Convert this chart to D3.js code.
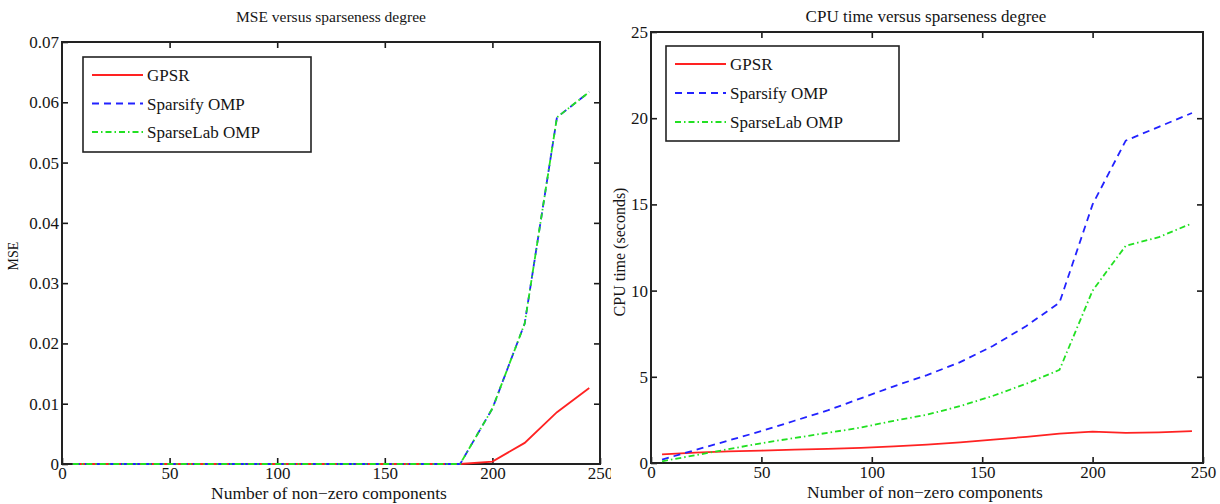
<!DOCTYPE html>
<html>
<head>
<meta charset="utf-8">
<script src="https://cdn.jsdelivr.net/npm/d3@7"></script>
<style>
  html, body { margin: 0; padding: 0; background: #fff; }
  svg { display: block; }
  text { font-family: "Liberation Serif", "Times New Roman", serif; fill: #151515; }
</style>
</head>
<body>
<svg id="fig" width="1220" height="504"></svg>
<script>
// Sparseness degree on the x axis (number of non-zero components)
const nonZero = [5, 20, 35, 50, 65, 80, 95, 110, 125, 140, 155, 170, 185, 200, 215, 230, 245];

// Mean squared error of each solver
const mseGPSR      = [0, 0, 0, 0, 0, 0, 0, 0, 0, 0, 0, 0, 0, 0.0004, 0.0035, 0.0086, 0.0126];
const mseSparsify  = [0, 0, 0, 0, 0, 0, 0, 0, 0, 0, 0, 0, 0, 0.0092, 0.0233, 0.0575, 0.0617];
const mseSparseLab = [0, 0, 0, 0, 0, 0, 0, 0, 0, 0, 0, 0, 0, 0.0092, 0.0233, 0.0575, 0.0617];

// CPU time in seconds of each solver
const cpuGPSR      = [0.5, 0.6, 0.67, 0.72, 0.77, 0.82, 0.88, 0.97, 1.07, 1.2, 1.35, 1.52, 1.7, 1.82, 1.75, 1.78, 1.85];
const cpuSparsify  = [0.2, 0.75, 1.3, 1.85, 2.45, 3.05, 3.75, 4.45, 5.1, 5.85, 6.8, 7.95, 9.3, 15.0, 18.7, 19.5, 20.3];
const cpuSparseLab = [0.1, 0.45, 0.8, 1.15, 1.45, 1.75, 2.05, 2.45, 2.8, 3.3, 3.9, 4.6, 5.4, 10.0, 12.6, 13.1, 13.9];

// Axis ticks
const xTicks = [0, 50, 100, 150, 200, 250];
const mseTicks = [0, 0.01, 0.02, 0.03, 0.04, 0.05, 0.06, 0.07];
const mseTickLabels = ["0", "0.01", "0.02", "0.03", "0.04", "0.05", "0.06", "0.07"];
const cpuTicks = [0, 5, 10, 15, 20, 25];
const cpuTickLabels = ["0", "5", "10", "15", "20", "25"];

const seriesNames = ["GPSR", "Sparsify OMP", "SparseLab OMP"];

const styles = [
  { color: "#ff2222", dash: null },
  { color: "#2222ff", dash: "7,5" },
  { color: "#22e022", dash: "6,3,1.5,3" }
];
const lineWidth = 1.8;

const svg = d3.select("#fig");

function drawPanel(opt) {
  const { left, right, top, bottom } = opt.box;
  const x = d3.scaleLinear().domain([0, 250]).range([left, right]);
  const y = d3.scaleLinear().domain(opt.yDomain).range([bottom, top]);
  const tickLen = 6;

  const clipId = "clip-" + opt.id;
  svg.append("clipPath").attr("id", clipId)
    .append("rect").attr("x", opt.clip[0]).attr("y", 0)
    .attr("width", opt.clip[1] - opt.clip[0]).attr("height", 504);
  const g = svg.append("g").attr("clip-path", `url(#${clipId})`);

  // inward ticks on all four sides
  const ax = (axis) => axis.tickSizeInner(-tickLen).tickSizeOuter(0);

  const bottomAxis = g.append("g").attr("transform", `translate(0,${bottom})`)
    .call(ax(d3.axisBottom(x).tickValues(xTicks).tickFormat(d3.format("d"))).tickPadding(3));
  const topAxis = g.append("g").attr("transform", `translate(0,${top})`)
    .call(ax(d3.axisTop(x).tickValues(xTicks.slice(1, -1))).tickFormat(""));
  const leftAxis = g.append("g").attr("transform", `translate(${left},0)`)
    .call(ax(d3.axisLeft(y).tickValues(opt.yTicks).tickFormat((d, i) => opt.yTickLabels[i])).tickPadding(3));
  const rightAxis = g.append("g").attr("transform", `translate(${right},0)`)
    .call(ax(d3.axisRight(y).tickValues(opt.yTicks.slice(1, -1))).tickFormat(""));

  [bottomAxis, topAxis, leftAxis, rightAxis].forEach(a => {
    a.select(".domain").remove();
    a.selectAll(".tick line").attr("stroke", "#1a1a1a").attr("stroke-width", 1.6);
    a.selectAll(".tick text").attr("font-size", 17)
      .attr("font-family", "Liberation Serif, serif").attr("fill", "#151515");
  });

  // axes box
  g.append("rect")
    .attr("x", left).attr("y", top)
    .attr("width", right - left).attr("height", bottom - top)
    .attr("fill", "none").attr("stroke", "#222").attr("stroke-width", 2);

  // series lines, drawn over the box
  const line = d3.line().x((d, i) => x(nonZero[i])).y(d => y(d));
  opt.series.forEach((vals, k) => {
    g.append("path").datum(vals)
      .attr("fill", "none")
      .attr("stroke", styles[k].color)
      .attr("stroke-width", lineWidth)
      .attr("stroke-dasharray", styles[k].dash)
      .attr("d", line);
  });

  // titles
  g.append("text").attr("x", (left + right) / 2 + opt.titleDx).attr("y", 22)
    .attr("text-anchor", "middle").attr("font-size", opt.titleSize).text(opt.title);
  g.append("text").attr("x", (left + right) / 2 - 2).attr("y", bottom + 35)
    .attr("text-anchor", "middle").attr("font-size", 17.5).text("Number of non\u2212zero components");
  g.append("text")
    .attr("transform", `translate(${opt.yLabelX},${opt.yLabelY}) rotate(-90)`)
    .attr("text-anchor", "middle").attr("font-size", opt.yLabelSize).text(opt.yLabel);

  // legend
  const L = opt.legend;
  const lg = g.append("g");
  lg.append("rect").attr("x", L.x).attr("y", L.y).attr("width", L.w).attr("height", L.h)
    .attr("fill", "#fff").attr("stroke", "#222").attr("stroke-width", 1.6);
  seriesNames.forEach((name, k) => {
    const yy = L.y + L.first + k * L.step;
    lg.append("line").attr("x1", L.x + 9).attr("x2", L.x + 60).attr("y1", yy).attr("y2", yy)
      .attr("stroke", styles[k].color).attr("stroke-width", lineWidth)
      .attr("stroke-dasharray", styles[k].dash);
    lg.append("text").attr("x", L.x + 64).attr("y", yy + 6)
      .attr("font-size", 17).text(name);
  });
}

drawPanel({
  id: "mse", clip: [0, 611],
  box: { left: 62, right: 600, top: 42, bottom: 464 },
  yDomain: [0, 0.07],
  yTicks: mseTicks, yTickLabels: mseTickLabels,
  title: "MSE versus sparseness degree", titleSize: 15.5, titleDx: 0,
  yLabel: "MSE", yLabelX: 18, yLabelY: 256, yLabelSize: 14,
  series: [mseGPSR, mseSparsify, mseSparseLab],
  legend: { x: 83, y: 57, w: 228, h: 95, first: 18, step: 28.5 }
});

drawPanel({
  id: "cpu", clip: [611, 1220],
  box: { left: 651, right: 1203, top: 32, bottom: 463 },
  yDomain: [0, 25],
  yTicks: cpuTicks, yTickLabels: cpuTickLabels,
  title: "CPU time versus sparseness degree", titleSize: 17, titleDx: -1,
  yLabel: "CPU time (seconds)", yLabelX: 625, yLabelY: 252, yLabelSize: 16,
  series: [cpuGPSR, cpuSparsify, cpuSparseLab],
  legend: { x: 666, y: 46, w: 233, h: 95, first: 18, step: 29 }
});
</script>
</body>
</html>
